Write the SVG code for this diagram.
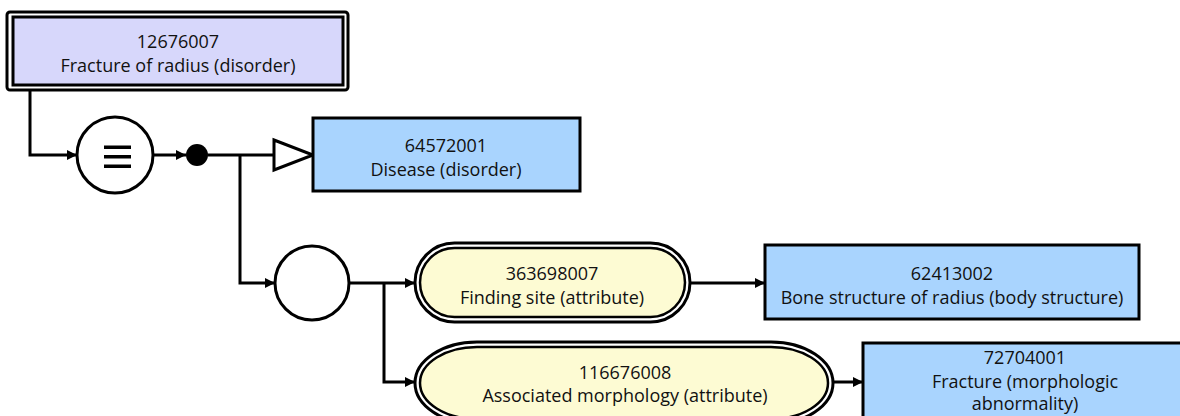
<svg xmlns="http://www.w3.org/2000/svg" width="1180" height="416" viewBox="0 0 1180 416">
<style>
.t{font-family:"Open Sans","Liberation Sans",sans-serif;font-size:18px;fill:#111;text-anchor:middle}
.ln{fill:none;stroke:#000;stroke-width:3}
.bd{stroke:#000;stroke-width:3}
.blue{fill:#a9d4fe}
.yel{fill:#fdfbd3}
.lav{fill:#d7d7fb}
</style>
<defs>
<marker id="ah" viewBox="0 0 10 10" refX="10" refY="5" markerWidth="10" markerHeight="10" markerUnits="userSpaceOnUse" orient="auto">
<path d="M0,0 L10,5 L0,10 z" fill="#000"/>
</marker>
</defs>
<rect width="1180" height="416" fill="#fff"/>
<g id="connectors">
<path class="ln" d="M30,85 V155 H77" marker-end="url(#ah)"/>
<path class="ln" d="M153,155 H186" marker-end="url(#ah)"/>
<path class="ln" d="M208,155 H274"/>
<path class="ln" d="M240,155 V283 H275" marker-end="url(#ah)"/>
<path class="ln" d="M349,283 H415" marker-end="url(#ah)"/>
<path class="ln" d="M384,283 V382 H415" marker-end="url(#ah)"/>
<path class="ln" d="M690,283 H765" marker-end="url(#ah)"/>
<path class="ln" d="M833,382 H863" marker-end="url(#ah)"/>
<polygon points="274,140 313,155 274,170" fill="#fff" stroke="#000" stroke-width="3" stroke-linejoin="miter"/>
</g>
<g id="n12676007">
<rect x="7" y="12" width="341" height="78" rx="3" fill="#fff" class="bd"/>
<rect x="13" y="17" width="330" height="68" class="lav bd"/>
<text class="t" x="178" y="48">12676007</text>
<text class="t" x="178" y="72">Fracture of radius (disorder)</text>
</g>
<g id="equiv">
<circle cx="115" cy="155" r="38" fill="#fff" class="bd"/>
<rect x="104" y="145.5" width="27" height="3.5" fill="#000"/>
<rect x="104" y="155" width="27" height="3.5" fill="#000"/>
<rect x="104" y="164.5" width="27" height="3.5" fill="#000"/>
</g>
<g id="conj">
<circle cx="197" cy="155" r="11" fill="#000"/>
</g>
<g id="n64572001">
<rect x="313" y="118" width="267" height="73" class="blue bd"/>
<text class="t" x="446" y="152">64572001</text>
<text class="t" x="446" y="176">Disease (disorder)</text>
</g>
<g id="group">
<circle cx="312" cy="283" r="37" fill="#fff" class="bd"/>
</g>
<g id="n363698007">
<rect x="415" y="243" width="275" height="79" rx="39.5" fill="#fff" class="bd"/>
<rect x="420" y="248" width="265" height="69" rx="34.5" class="yel" stroke="#000" stroke-width="2.5"/>
<text class="t" x="552" y="280">363698007</text>
<text class="t" x="552" y="304">Finding site (attribute)</text>
</g>
<g id="n62413002">
<rect x="765" y="245" width="374" height="74" class="blue bd"/>
<text class="t" x="952" y="280">62413002</text>
<text class="t" x="952" y="304">Bone structure of radius (body structure)</text>
</g>
<g id="n116676008">
<rect x="415" y="342" width="418" height="82" rx="62" ry="41" fill="#fff" class="bd"/>
<rect x="420" y="347" width="408" height="72" rx="57" ry="36" class="yel" stroke="#000" stroke-width="2.5"/>
<text class="t" x="625" y="379">116676008</text>
<text class="t" x="625" y="402">Associated morphology (attribute)</text>
</g>
<g id="n72704001">
<rect x="863" y="343" width="330" height="90" class="blue bd"/>
<text class="t" x="1025" y="364">72704001</text>
<text class="t" x="1025" y="388">Fracture (morphologic</text>
<text class="t" x="1025" y="410">abnormality)</text>
</g>
</svg>
